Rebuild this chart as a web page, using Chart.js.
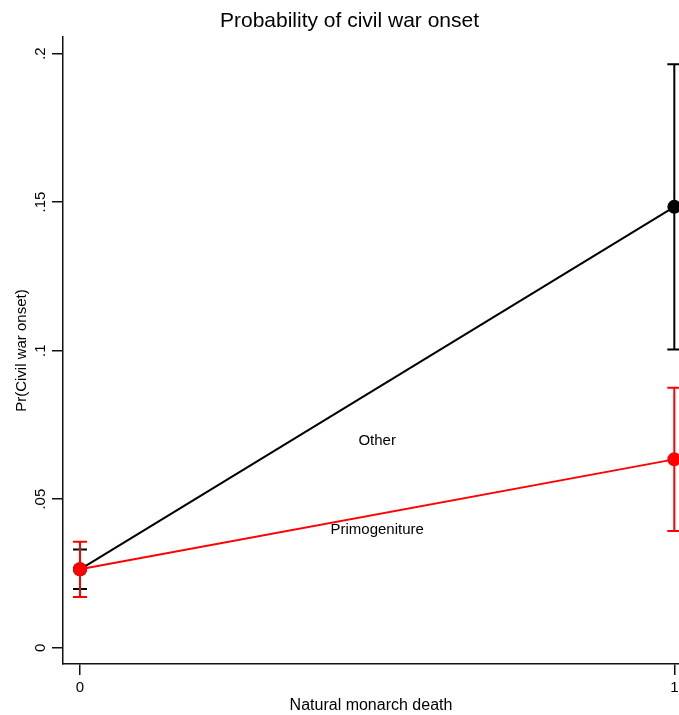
<!DOCTYPE html>
<html>
<head>
<meta charset="utf-8">
<script src="https://cdn.jsdelivr.net/npm/chart.js@4/dist/chart.umd.min.js"></script>
<style>
  html, body { margin: 0; padding: 0; background: #fff; }
  #wrap { width: 679px; height: 715px; position: relative; }
</style>
</head>
<body>
<div id="wrap"><canvas id="c"></canvas></div>
<script>
// ---- data ----
const xCategories = [0, 1];
const xTickLabels = ["0", "1"];
const yTicks = [0, 0.05, 0.1, 0.15, 0.2];
const yTickLabels = ["0", ".05", ".1", ".15", ".2"];

const otherEst = [0.0264, 0.1484];
const otherLo  = [0.0198, 0.1004];
const otherHi  = [0.0331, 0.1964];

const primoEst = [0.0264, 0.0634];
const primoLo  = [0.0171, 0.0393];
const primoHi  = [0.0357, 0.0875];

const seriesNames = ["Other", "Primogeniture"];
const labelX = [0.5, 0.5];
const labelY = [0.0695, 0.0396];

const FONT = "'Liberation Sans', Arial, Helvetica, sans-serif";

function lineData(est) { return xCategories.map((x, i) => ({ x: x, y: est[i] })); }
function ciData(lo, hi, i) { return [{ x: xCategories[i], y: lo[i] }, { x: xCategories[i], y: hi[i] }]; }

function ciSet(lo, hi, i, color) {
  return {
    data: ciData(lo, hi, i), showLine: true, borderColor: color, backgroundColor: color,
    borderWidth: 2, pointStyle: 'line', pointRadius: 7, pointBorderWidth: 2,
    pointBorderColor: color, pointHoverRadius: 7, clip: 10
  };
}

const datasets = [
  { label: seriesNames[1], data: lineData(primoEst), showLine: true, borderColor: '#ff0000',
    backgroundColor: '#ff0000', borderWidth: 2, pointRadius: 7, pointBorderWidth: 0,
    pointBackgroundColor: '#ff0000', clip: 10 },
  ciSet(primoLo, primoHi, 0, '#ff0000'),
  ciSet(primoLo, primoHi, 1, '#ff0000'),
  ciSet(otherLo, otherHi, 0, '#000000'),
  ciSet(otherLo, otherHi, 1, '#000000'),
  { label: seriesNames[0], data: lineData(otherEst), showLine: true, borderColor: '#000000',
    backgroundColor: '#000000', borderWidth: 2, pointRadius: 7, pointBorderWidth: 0,
    pointBackgroundColor: '#000000', clip: 10 }
];

const seriesLabels = {
  id: 'seriesLabels',
  afterDatasetsDraw(chart) {
    const ctx = chart.ctx, xs = chart.scales.x, ys = chart.scales.y;
    ctx.save();
    ctx.font = "15px " + FONT;
    ctx.fillStyle = '#000';
    ctx.textAlign = 'center';
    ctx.textBaseline = 'middle';
    seriesNames.forEach((n, i) => {
      ctx.fillText(n, xs.getPixelForValue(labelX[i]), ys.getPixelForValue(labelY[i]));
    });
    ctx.restore();
  }
};

new Chart(document.getElementById('c'), {
  type: 'scatter',
  data: { datasets },
  options: {
    responsive: true,
    maintainAspectRatio: false,
    animation: false,
    events: [],
    layout: { autoPadding: false, padding: { left: 20, right: 0, top: 0, bottom: 0 } },
    plugins: {
      legend: { display: false },
      tooltip: { enabled: false },
      title: {
        display: true, text: 'Probability of civil war onset', color: '#000',
        font: { family: FONT, size: 21, weight: 'normal' },
        padding: { top: 9, bottom: 3 }
      }
    },
    scales: {
      x: {
        type: 'linear', min: -0.0286, max: 1.0079,
        afterBuildTicks(s) { s.ticks = xCategories.map(v => ({ value: v })); },
        afterFit(s) { s.height = 51; },
        ticks: {
          autoSkip: false, maxRotation: 0, minRotation: 0, padding: 0, color: '#000',
          font: { family: FONT, size: 15, lineHeight: 1.73 },
          callback: (v) => xTickLabels[xCategories.indexOf(v)]
        },
        grid: { display: true, drawOnChartArea: false, drawTicks: true, tickLength: 11,
                color: '#111', lineWidth: 1.5 },
        border: { display: true, color: '#111', width: 1.5 },
        title: { display: true, text: 'Natural monarch death', color: '#000',
                 font: { family: FONT, size: 16 }, padding: { top: 0, bottom: 0 } }
      },
      y: {
        type: 'linear', min: -0.00548, max: 0.2055,
        afterBuildTicks(s) { s.ticks = yTicks.map(v => ({ value: v })); },
        afterFit(s) { s.width = 43; },
        ticks: {
          autoSkip: false, minRotation: 90, maxRotation: 90, crossAlign: 'center',
          padding: 1, color: '#000', font: { family: FONT, size: 15 },
          callback: (v) => { const i = yTicks.findIndex(t => Math.abs(t - v) < 1e-9); return i >= 0 ? yTickLabels[i] : ''; }
        },
        grid: { display: true, drawOnChartArea: false, drawTicks: true, tickLength: 11,
                color: '#111', lineWidth: 1.5 },
        border: { display: true, color: '#111', width: 1.5 },
        title: { display: true, text: 'Pr(Civil war onset)', color: '#000',
                 font: { family: FONT, size: 15 }, padding: { top: -7, bottom: 0 } }
      }
    }
  },
  plugins: [seriesLabels]
});
</script>
</body>
</html>
